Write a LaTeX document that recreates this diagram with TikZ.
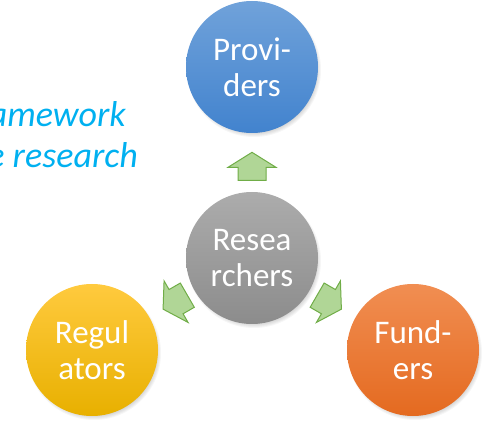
\documentclass[tikz,border=0pt]{standalone}
\usepackage{fontspec}
\setmainfont{Carlito}
\usetikzlibrary{calc}
\definecolor{blueT}{RGB}{112,162,218}
\definecolor{blueB}{RGB}{66,131,206}
\definecolor{grayT}{RGB}{172,172,172}
\definecolor{grayB}{RGB}{140,140,140}
\definecolor{yelT}{RGB}{255,202,62}
\definecolor{yelB}{RGB}{232,176,0}
\definecolor{orT}{RGB}{241,142,82}
\definecolor{orB}{RGB}{228,106,32}
\definecolor{arrowfill}{RGB}{176,214,150}
\definecolor{arrowline}{RGB}{112,173,71}
\definecolor{titlecyan}{RGB}{0,176,240}
\tikzset{
  bubble/.style={circle, minimum size=132pt, inner sep=0pt, text=white, align=center,
    font=\fontsize{33}{36}\selectfont},
  gblock/.style={fill=arrowfill, draw=arrowline, line width=1pt, line join=miter},
  titletext/.style={anchor=base east, inner sep=0pt, text=titlecyan,
    font=\itshape\fontsize{36}{44}\selectfont},
}
\begin{document}
\begin{tikzpicture}[x=1pt,y=1pt]
\useasboundingbox (0,0) rectangle (488,421);
\clip (0,0) rectangle (488,421);
% soft shadows
\foreach \cx/\cy in {252/354, 252/163, 92/71, 413/71} {
  \foreach \r in {1,...,6}
    \fill[black, opacity=0.035] (\cx+2,\cy-3) circle (61+\r);
}
% circles
\node[bubble, top color=blueT, bottom color=blueB] (prov) at (252,354) {Provi-\\ders};
\node[bubble, top color=grayT, bottom color=grayB] (res) at (252,163) {Resea\\rchers};
\node[bubble, top color=yelT, bottom color=yelB] (reg) at (92,71) {Regul\\ators};
\node[bubble, top color=orT, bottom color=orB] (fund) at (413,71) {Fund-\\ers};
% block arrows
\foreach \tgt/\ang in {prov/90, reg/210, fund/330} {
  \begin{scope}[shift={($(res)!0.48!(\tgt)$)}, rotate=\ang]
    \draw[gblock] (-14,-14) -- (-1,-14) -- (-1,-24) -- (14,0) -- (-1,24) -- (-1,14) -- (-14,14) -- cycle;
  \end{scope}
}
% title text (partly cut off at the left edge)
\node[titletext] (t1) at (126,294) {Framework};
\node[titletext] (t2) at (138,253) {the research};
\end{tikzpicture}
\end{document}
